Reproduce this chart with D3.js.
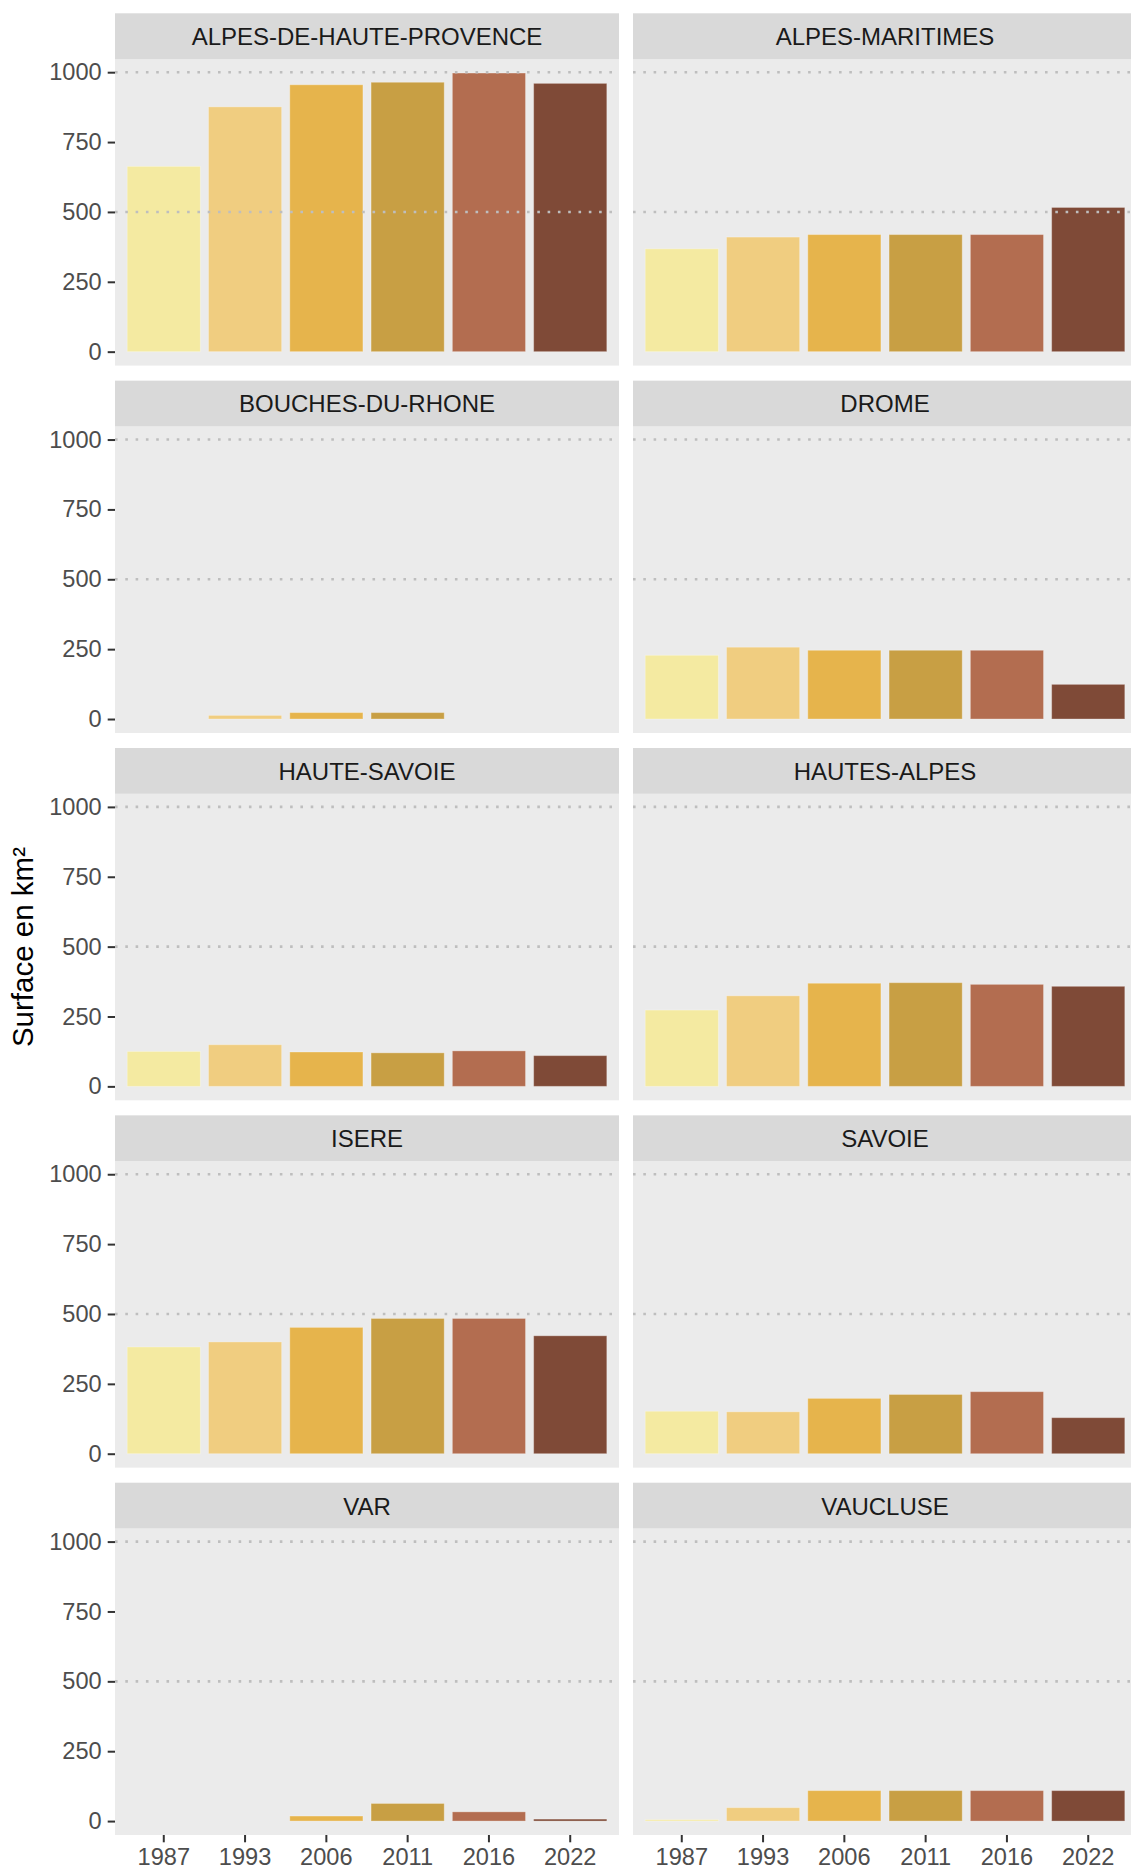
<!DOCTYPE html>
<html>
<head>
<meta charset="utf-8">
<script src="https://cdn.jsdelivr.net/npm/d3@7"></script>
<style>
  html, body { margin: 0; padding: 0; background: #ffffff; }
  svg { display: block; }
</style>
</head>
<body>
<svg id="chart" width="1131" height="1870"></svg>
<script>
// ---------------- DATA ----------------
const departements = [
  "ALPES-DE-HAUTE-PROVENCE", "ALPES-MARITIMES",
  "BOUCHES-DU-RHONE", "DROME",
  "HAUTE-SAVOIE", "HAUTES-ALPES",
  "ISERE", "SAVOIE",
  "VAR", "VAUCLUSE"
];
const years = ["1987", "1993", "2006", "2011", "2016", "2022"];
const yearColors = ["#F4EAA1", "#F0CD80", "#E6B44C", "#C89F44", "#B36D50", "#7F4A37"];
const yTicks = [0, 250, 500, 750, 1000];
const gridValues = [500, 1000];

const alpesDeHauteProvence = [663, 876, 955, 964, 997, 960];
const alpesMaritimes       = [368, 410, 419, 419, 419, 516];
const bouchesDuRhone       = [null, 13, 23, 23, null, null];
const drome                = [228, 257, 246, 246, 246, 124];
const hauteSavoie          = [125, 149, 123, 120, 127, 110];
const hautesAlpes          = [273, 324, 369, 371, 365, 358];
const isere                = [382, 400, 452, 484, 484, 422];
const savoie               = [152, 150, 198, 212, 222, 129];
const varDep               = [null, null, 18, 63, 33, 7];
const vaucluse             = [5, 48, 109, 109, 109, 109];

const seriesList = [
  alpesDeHauteProvence, alpesMaritimes,
  bouchesDuRhone, drome,
  hauteSavoie, hautesAlpes,
  isere, savoie,
  varDep, vaucluse
];

const yTitle = "Surface en km\u00B2";

// ---------------- LAYOUT ----------------
const font = "'Liberation Sans', Arial, sans-serif";
const colLeft = [115, 633];
const panelW = 504;
const firstTop = 13.3;
const rowPitch = 367.35;
const stripH = 45.8;
const panelH = 306.5;

const svg = d3.select("#chart");

const allVals = seriesList.flat().filter(v => v != null);
const yMax = d3.max(allVals);

const x = d3.scaleBand().domain(years).range([0, panelW]).paddingInner(0.1).paddingOuter(0.15);
const color = d3.scaleOrdinal().domain(years).range(yearColors);

departements.forEach((dep, i) => {
  const col = i % 2, row = Math.floor(i / 2);
  const left = colLeft[col];
  const top = firstTop + row * rowPitch;
  const pTop = top + stripH;
  const g = svg.append("g").attr("transform", `translate(${left},${pTop})`);

  const y = d3.scaleLinear().domain([-0.05 * yMax, 1.05 * yMax]).range([panelH, 0]);

  // strip
  svg.append("rect").attr("x", left).attr("y", top).attr("width", panelW).attr("height", stripH)
    .attr("fill", "#D9D9D9");
  svg.append("text").attr("x", left + panelW / 2).attr("y", top + stripH / 2 + 8.9)
    .attr("text-anchor", "middle").attr("font-family", font).attr("font-size", 24)
    .attr("fill", "#1A1A1A").text(dep);

  // panel background
  g.append("rect").attr("width", panelW).attr("height", panelH).attr("fill", "#EBEBEB");

  // bars
  const data = years.map((yr, k) => ({ year: yr, value: seriesList[i][k] })).filter(d => d.value != null);
  g.selectAll("rect.bar").data(data).join("rect").attr("class", "bar")
    .attr("x", d => x(d.year))
    .attr("width", x.bandwidth())
    .attr("y", d => y(d.value))
    .attr("height", d => Math.max(0, y(0) - y(d.value)))
    .attr("fill", d => color(d.year))
    .attr("stroke", "#ffffff").attr("stroke-opacity", 0.3).attr("stroke-width", 1);

  // dotted grid lines drawn over bars
  g.selectAll("line.grid").data(gridValues).join("line").attr("class", "grid")
    .attr("x1", 0).attr("x2", panelW)
    .attr("y1", d => y(d)).attr("y2", d => y(d))
    .attr("stroke", "#BEBEBE").attr("stroke-width", 2.6)
    .attr("stroke-dasharray", "2.6 7.7");

  // y axis on left column
  if (col === 0) {
    const ax = d3.axisLeft(y).tickValues(yTicks).tickSize(7.3).tickPadding(6).tickFormat(d3.format("d"));
    const ag = g.append("g").call(ax);
    ag.select(".domain").remove();
    ag.selectAll(".tick line").attr("stroke", "#333333").attr("stroke-width", 2);
    ag.selectAll(".tick text").attr("font-family", font).attr("font-size", 23.6).attr("fill", "#4D4D4D");
  }
  // x axis on bottom row
  if (row === 4) {
    const ax = d3.axisBottom(x).tickSize(7.3).tickPadding(6);
    const ag = g.append("g").attr("transform", `translate(0,${panelH})`).call(ax);
    ag.select(".domain").remove();
    ag.selectAll(".tick line").attr("stroke", "#333333").attr("stroke-width", 2);
    ag.selectAll(".tick text").attr("font-family", font).attr("font-size", 23.6).attr("fill", "#4D4D4D");
  }
});

// y axis title
const panelsTop = firstTop + stripH;
const panelsBottom = firstTop + 4 * rowPitch + stripH + panelH;
svg.append("text")
  .attr("transform", `translate(33,${(panelsTop + panelsBottom) / 2}) rotate(-90)`)
  .attr("text-anchor", "middle").attr("font-family", font).attr("font-size", 29.5)
  .attr("fill", "#000000").text(yTitle);
</script>
</body>
</html>
